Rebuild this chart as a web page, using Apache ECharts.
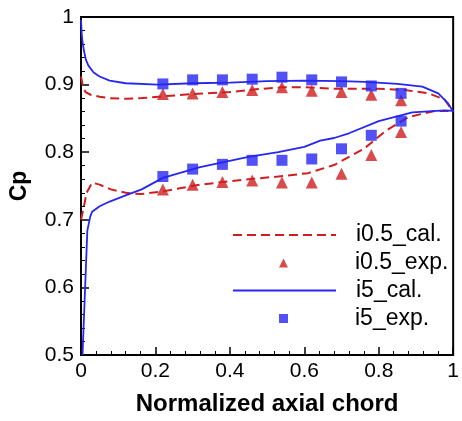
<!DOCTYPE html>
<html><head><meta charset="utf-8">
<script src="https://cdn.jsdelivr.net/npm/echarts@6/dist/echarts.min.js"></script>
<style>html,body{margin:0;padding:0;background:#fff}#c{width:462px;height:421px}</style>
</head><body><div id="c"></div>
<script>
// Experimental x positions (normalized axial chord)
const expX = [0.22, 0.30, 0.38, 0.46, 0.54, 0.62, 0.70, 0.78, 0.86];
// i0.5 experimental Cp
const i05ExpUpper = [0.886, 0.887, 0.889, 0.892, 0.896, 0.891, 0.889, 0.885, 0.877];
const i05ExpLower = [0.745, 0.752, 0.756, 0.758, 0.755, 0.755, 0.768, 0.796, 0.830];
// i5 experimental Cp
const i5ExpUpper = [0.901, 0.907, 0.907, 0.908, 0.911, 0.907, 0.904, 0.898, 0.887];
const i5ExpLower = [0.764, 0.775, 0.782, 0.788, 0.788, 0.790, 0.805, 0.825, 0.846];

// i0.5 calculated (upper / lower surfaces)
const i05CalUpper = [[0,0.912],[0.005,0.898],[0.012,0.889],[0.026,0.885],[0.05,0.882],[0.077,0.880],[0.12,0.879],[0.163,0.880],[0.23,0.883],[0.30,0.886],[0.40,0.889],[0.47,0.893],[0.54,0.896],[0.60,0.896],[0.68,0.894],[0.80,0.894],[0.87,0.892],[0.934,0.887],[0.977,0.878],[1,0.86]];
const i05CalLower = [[0,0.70],[0.008,0.72],[0.015,0.74],[0.03,0.755],[0.05,0.752],[0.08,0.745],[0.12,0.740],[0.16,0.738],[0.22,0.742],[0.32,0.752],[0.45,0.760],[0.53,0.764],[0.61,0.769],[0.68,0.781],[0.76,0.805],[0.82,0.832],[0.88,0.852],[0.95,0.861],[1,0.861]];
// i5 calculated (upper / lower surfaces)
const i5CalUpper = [[0,0.996],[0.002,0.975],[0.004,0.963],[0.008,0.95],[0.013,0.937],[0.02,0.928],[0.034,0.918],[0.05,0.912],[0.077,0.906],[0.12,0.902],[0.206,0.900],[0.3,0.902],[0.4,0.903],[0.5,0.905],[0.6,0.906],[0.7,0.905],[0.763,0.904],[0.85,0.901],[0.917,0.897],[0.96,0.887],[0.985,0.873],[1,0.86]];
const i5CalLower = [[0.004,0.5],[0.009,0.57],[0.013,0.627],[0.017,0.684],[0.025,0.705],[0.03,0.712],[0.05,0.72],[0.077,0.727],[0.12,0.736],[0.163,0.745],[0.22,0.762],[0.32,0.778],[0.45,0.793],[0.53,0.800],[0.6,0.808],[0.643,0.817],[0.68,0.821],[0.72,0.828],[0.8,0.846],[0.89,0.859],[0.977,0.862],[1,0.861]];

const lineNames = ['i0.5_cal.', 'i5_cal.'];
const markerNames = ['i0.5_exp.', 'i5_exp.'];

const RED = '#d01e1e', BLUE = '#2626f2';
const FONT = 'Liberation Sans, Arial, sans-serif';

function pairs(xs, ys){ return xs.map((x,i)=>[x, ys[i]]); }

const chart = echarts.init(document.getElementById('c'), null, {renderer:'canvas'});
const dashLine = {color: RED, width: 2, type: [9,5]};
const solidLine = {color: BLUE, width: 1.8, type: 'solid'};
const legendText = {fontFamily: FONT, fontSize: 23, color: '#000', lineHeight: 24};
chart.setOption({
  animation: false,
  grid: {left: 70, top: 17, right: 3, bottom: 51, show: true, borderColor: '#000', borderWidth: 2, backgroundColor: 'transparent'},
  xAxis: {
    type: 'value', min: 0, max: 1, interval: 0.2,
    name: 'Normalized axial chord', nameLocation: 'middle', nameGap: 37,
    nameTextStyle: {fontFamily: FONT, fontWeight: 'bold', fontSize: 24, color: '#000'},
    axisLine: {show: true, lineStyle: {color: '#000', width: 2}},
    axisTick: {show: true, inside: true, length: 8, lineStyle: {color: '#000', width: 1.5}},
    minorTick: {show: true, splitNumber: 5, length: 4, lineStyle: {color: '#000', width: 1}},
    splitLine: {show: false},
    axisLabel: {fontFamily: FONT, fontSize: 21, color: '#000', margin: 6}
  },
  yAxis: {
    type: 'value', min: 0.5, max: 1, interval: 0.1,
    name: 'Cp', nameLocation: 'middle', nameGap: 50, nameRotate: 90,
    nameTextStyle: {fontFamily: FONT, fontWeight: 'bold', fontSize: 23, color: '#000'},
    axisLine: {show: true, lineStyle: {color: '#000', width: 2}},
    axisTick: {show: true, inside: true, length: 8, lineStyle: {color: '#000', width: 1.5}},
    minorTick: {show: true, splitNumber: 5, length: 4, lineStyle: {color: '#000', width: 1}},
    splitLine: {show: false},
    axisLabel: {fontFamily: FONT, fontSize: 21, color: '#000', margin: 7}
  },
  legend: [
    {
      data: lineNames.map(n => ({name: n, itemStyle: {opacity: 0}})),
      orient: 'vertical', left: 232, top: 223, padding: 0,
      itemWidth: 103, itemHeight: 9, itemGap: 31.5,
      textStyle: Object.assign({padding: [0,0,0,15]}, legendText)
    },
    {
      data: [{name: markerNames[0], icon: 'triangle'}, {name: markerNames[1], icon: 'rect'}],
      orient: 'vertical', left: 279, top: 251, padding: 0,
      itemWidth: 9, itemHeight: 9, itemGap: 31.5,
      textStyle: Object.assign({padding: [0,0,0,62]}, legendText)
    }
  ],
  series: [
    {name: 'i0.5_cal.', type: 'line', data: i05CalUpper, symbol: 'none', lineStyle: dashLine, itemStyle: {color: RED}, z: 2},
    {name: 'i0.5_cal.', type: 'line', data: i05CalLower, symbol: 'none', lineStyle: dashLine, itemStyle: {color: RED}, z: 2},
    {name: 'i0.5_exp.', type: 'scatter', data: pairs(expX, i05ExpUpper).concat(pairs(expX, i05ExpLower)), symbol: 'triangle', symbolSize: 12, itemStyle: {color: RED}, z: 3},
    {name: 'i5_cal.', type: 'line', data: i5CalUpper, symbol: 'none', lineStyle: solidLine, itemStyle: {color: BLUE}, z: 2},
    {name: 'i5_cal.', type: 'line', data: i5CalLower, symbol: 'none', lineStyle: solidLine, itemStyle: {color: BLUE}, z: 2},
    {name: 'i5_exp.', type: 'scatter', data: pairs(expX, i5ExpUpper).concat(pairs(expX, i5ExpLower)), symbol: 'rect', symbolSize: 11, itemStyle: {color: BLUE}, z: 3}
  ]
});
</script>
</body></html>
